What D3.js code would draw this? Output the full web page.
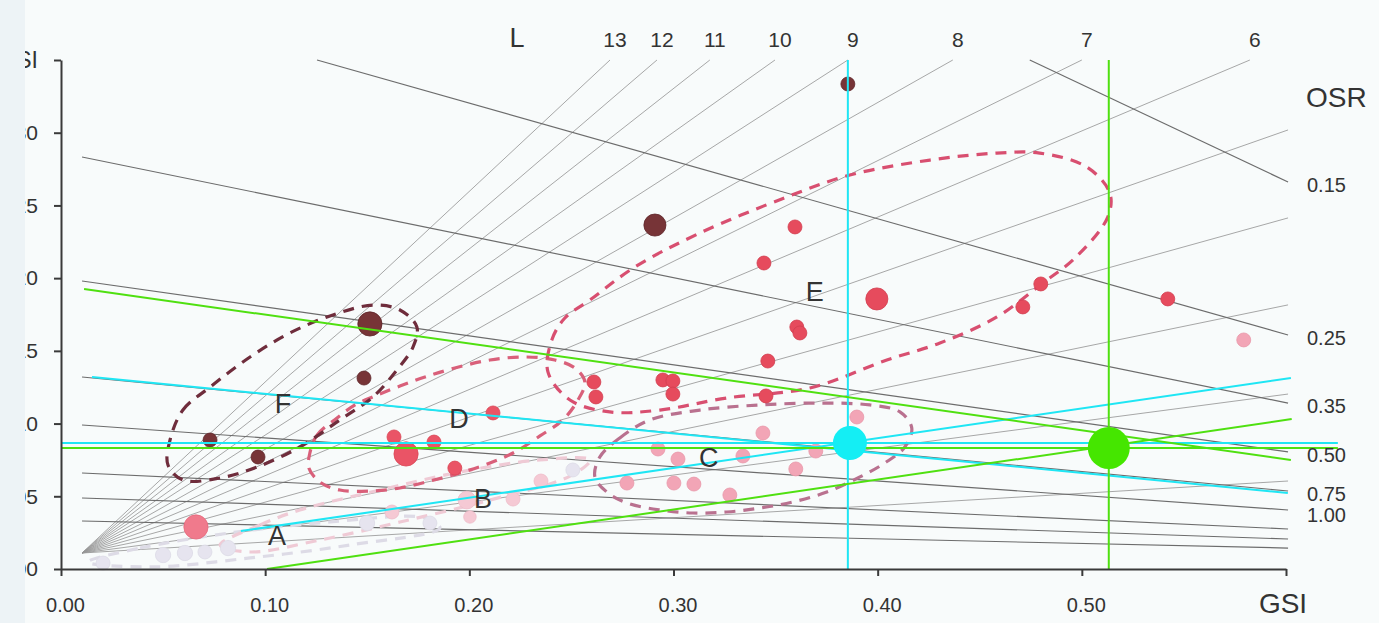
<!DOCTYPE html>
<html><head><meta charset="utf-8">
<script src="https://cdn.jsdelivr.net/npm/d3@7"></script>
<style>
html,body{margin:0;padding:0;background:#f7fafa;}
svg{display:block;font-family:"Liberation Sans",Arial,Helvetica,sans-serif;}
</style></head><body>
<svg id="c" width="1379" height="623"></svg>
<script>
// ---------- data (GSI units) ----------
const xTicks=[0,0.1,0.2,0.3,0.4,0.5,0.6];
const xTickLabels=["0.00","0.10","0.20","0.30","0.40","0.50",""];
const yTicks=[0,0.05,0.10,0.15,0.20,0.25,0.30,0.35];
const yTickLabels=["0.00","0.05","0.10","0.15","0.20","0.25","0.30","GSI"];

const fanOrigin=[0.0103,0.011];
const fanLabels=["13","12","11","10","9","8","7","6","","","","",""];
const fanEnd=[[0.2689,0.35],[0.2919,0.35],[0.3178,0.35],[0.3497,0.35],[0.3854,0.35],[0.4368,0.35],[0.5,0.35],[0.5823,0.35],
  [0.601,0.3019],[0.601,0.2414],[0.601,0.1816],[0.601,0.1203],[0.601,0.0605]];

const osrLabels=["0.15","0.25","0.35","0.50","0.75","1.00","","",""];
const osrStart=[[0.4745,0.35],[0.1254,0.35],[0.0103,0.2833],[0.0103,0.1980],[0.0103,0.1320],[0.0103,0.0990],[0.0103,0.0660],[0.0103,0.0488],[0.0103,0.0330]];
const osrEnd=[[0.601,0.2661],[0.601,0.1609],[0.601,0.1141],[0.601,0.0805],[0.601,0.0536],[0.601,0.0406],[0.601,0.0275],[0.601,0.0206],[0.601,0.0144]];

const groupNames=["A","B","C","D","E","F"];
const groupLabelPos=[[0.1058,0.0234],[0.2067,0.0488],[0.3173,0.0770],[0.1949,0.1038],[0.3692,0.1912],[0.1087,0.1141]];

// points: [GSI x, GSI y, weight]
const ptsA=[[0.0206,0.0041,1],[0.0500,0.0096,1.2],[0.0607,0.0110,1.2],[0.0705,0.0117,1],[0.0818,0.0144,1.2],[0.1499,0.0316,1.2],[0.1807,0.0316,1],[0.2507,0.0681,1]];
const ptsB=[[0.2351,0.0605,1],[0.1988,0.0474,1.6],[0.2214,0.0481,1],[0.1621,0.0392,1],[0.2003,0.0358,0.8]];
const ptsC=[[0.3898,0.1045,1],[0.3438,0.0935,1],[0.2924,0.0825,1],[0.3022,0.0756,1],[0.3340,0.0777,1],[0.3697,0.0811,1],[0.3599,0.0688,1],
  [0.2772,0.0591,1],[0.3002,0.0591,1],[0.3100,0.0584,1],[0.3276,0.0509,1],[0.5793,0.1575,1]];
const ptsD=[[0.2116,0.1073,1],[0.1631,0.0908,1],[0.1827,0.0873,1],[0.1690,0.0791,3],[0.1929,0.0694,1]];
const ptsP=[[0.0661,0.0289,3]];
const ptsE=[[0.3595,0.2352,1],[0.3443,0.2104,1],[0.3996,0.1857,2.5],[0.3604,0.1664,1],[0.3619,0.1623,1],[0.3462,0.1430,1],[0.3453,0.1190,1],
  [0.4799,0.1960,1],[0.4711,0.1802,1],[0.5421,0.1857,1],[0.2610,0.1286,1],[0.2620,0.1183,1],[0.2948,0.1300,1],[0.2997,0.1293,1],[0.2997,0.1203,1]];
const ptsF=[[0.3854,0.3335,1],[0.2909,0.2365,2.5],[0.1513,0.1685,3],[0.1484,0.1313,1],[0.0730,0.0887,1],[0.0965,0.0770,1]];

// outlines of the groups (dashed)
const outlineA=[[0.0132,0.0048],[0.0387,0.0144],[0.0828,0.0248],[0.1317,0.0323],[0.1783,0.0351],[0.1856,0.0282],[0.1415,0.0165],[0.0926,0.0076],[0.0436,0.0014]];
const outlineB=[[0.0779,0.0165],[0.0975,0.0303],[0.1170,0.0406],[0.1562,0.0543],[0.1954,0.0667],[0.2346,0.0750],[0.2591,0.0750],[0.2493,0.0639],[0.2101,0.0474],[0.1660,0.0323],[0.1268,0.0199],[0.0926,0.0117]];
const outlineC=[[0.2639,0.0770],[0.2737,0.0901],[0.2884,0.1025],[0.3129,0.1093],[0.3423,0.1128],[0.3717,0.1141],[0.3962,0.1128],[0.4109,0.1080],[0.4167,0.0970],[0.4133,0.0839],
  [0.4035,0.0729],[0.3913,0.0633],[0.3751,0.0529],[0.3585,0.0461],[0.3423,0.0419],[0.3261,0.0392],[0.3095,0.0385],[0.2933,0.0406],[0.2772,0.0454],[0.2674,0.0529],[0.2615,0.0633]];
const outlineD=[[0.1219,0.0798],[0.1254,0.0921],[0.1352,0.1038],[0.1440,0.1128],[0.1538,0.1190],[0.1660,0.1258],[0.1783,0.1320],[0.1929,0.1382],[0.2101,0.1437],[0.2272,0.1458],
  [0.2419,0.1437],[0.2517,0.1382],[0.2566,0.1286],[0.2532,0.1162],[0.2458,0.1025],[0.2346,0.0915],[0.2223,0.0804],[0.2101,0.0729],[0.1954,0.0660],[0.1807,0.0605],
  [0.1660,0.0557],[0.1513,0.0536],[0.1366,0.0543],[0.1268,0.0598],[0.1214,0.0694]];
const outlineE=[[0.2385,0.1355],[0.2404,0.1575],[0.2468,0.1726],[0.2591,0.1850],[0.2811,0.2077],[0.3129,0.2310],[0.3555,0.2558],[0.3864,0.2709],[0.4256,0.2812],[0.4584,0.2860],
  [0.4794,0.2860],[0.5024,0.2764],[0.5137,0.2585],[0.5127,0.2420],[0.4966,0.2138],[0.4809,0.1967],[0.4584,0.1733],[0.4305,0.1554],[0.4045,0.1437],[0.3668,0.1245],
  [0.3261,0.1176],[0.2933,0.1093],[0.2688,0.1080],[0.2493,0.1162]];
const outlineF=[[0.0534,0.0887],[0.0597,0.1093],[0.0730,0.1251],[0.0926,0.1458],[0.1121,0.1623],[0.1332,0.1747],[0.1528,0.1815],[0.1660,0.1781],[0.1743,0.1664],[0.1724,0.1526],
  [0.1645,0.1368],[0.1528,0.1183],[0.1366,0.1025],[0.1170,0.0839],[0.0960,0.0701],[0.0779,0.0626],[0.0597,0.0612],[0.0524,0.0715]];

// reference lines and markers
const cyanPoint=[0.3864,0.0866];
const greenPoint=[0.5132,0.0832];
const cyanLines=[[[0.3854,0.35],[0.3854,0]],[[0,0.0866],[0.6254,0.0866]],[[0.0152,0.1320],[0.6009,0.0523]],[[0.0881,0.0261],[0.6024,0.1313]]];
const greenLines=[[[0.5132,0.35],[0.5132,0]],[[0,0.0832],[0.6254,0.0832]],[[0.0113,0.1925],[0.6024,0.0750]],[[0.1009,0],[0.6028,0.1031]]];

// ---------- drawing ----------
const W=1379,H=623;
const svg=d3.select("#c");
const x=d3.scaleLinear().domain([0,0.6]).range([61,1286]);
const y=d3.scaleLinear().domain([0,0.35]).range([569,60]);
const r=d3.scaleSqrt().domain([0,3]).range([0,12.1]);

svg.append("rect").attr("width",W).attr("height",H).attr("fill","#f8fbfb");
svg.append("defs").append("clipPath").attr("id","pg").append("rect").attr("x",25).attr("y",0).attr("width",W).attr("height",H);
const g=svg.append("g").attr("clip-path","url(#pg)");

const line=d3.line().x(d=>x(d[0])).y(d=>y(d[1]));

// fan lines
g.append("g").selectAll("path").data(fanEnd).join("path")
  .attr("d",d=>line([fanOrigin,d])).attr("fill","none").attr("stroke","#979797").attr("stroke-width",0.85);
// OSR lines
g.append("g").selectAll("path").data(osrStart).join("path")
  .attr("d",(d,i)=>line([d,osrEnd[i]])).attr("fill","none").attr("stroke","#6c6c6c").attr("stroke-width",1.15);

// outlines
const closed=d3.line().x(d=>x(d[0])).y(d=>y(d[1])).curve(d3.curveCatmullRomClosed.alpha(0.5));
const outlines=[[outlineA,"#dddbe6"],[outlineB,"#efcad5"],[outlineC,"#b9718f"],[outlineD,"#d9607a"],[outlineF,"#6f2d3c"],[outlineE,"#d84f70"]];
g.append("g").selectAll("path").data(outlines).join("path")
  .attr("d",d=>closed(d[0])).attr("fill","none").attr("stroke",d=>d[1])
  .attr("stroke-width",3.2).attr("stroke-dasharray","11,8");

// points
const ptGroups=[[ptsA,"#e6e4ef","#dcdae6"],[ptsB,"#f5c9d4","#eebcc9"],[ptsC,"#f2a5b6","#e898aa"],[ptsP,"#f07a8c","#e46a7c"],[ptsD,"#ea5466","#d94656"],[ptsE,"#e64b5d","#d23d4f"],[ptsF,"#773437","#5e2629"]];
ptGroups.forEach(([pts,fill,stroke])=>{
  g.append("g").selectAll("circle").data(pts).join("circle")
    .attr("cx",d=>x(d[0])).attr("cy",d=>y(d[1])).attr("r",d=>r(d[2]))
    .attr("fill",fill).attr("stroke",stroke).attr("stroke-width",0.8);
});

// reference lines
g.append("g").selectAll("path").data(cyanLines).join("path")
  .attr("d",d=>line(d)).attr("stroke","#1fe6f4").attr("stroke-width",2).attr("fill","none");
g.append("g").selectAll("path").data(greenLines).join("path")
  .attr("d",d=>line(d)).attr("stroke","#4fe010").attr("stroke-width",2).attr("fill","none");
g.append("circle").attr("cx",x(cyanPoint[0])).attr("cy",y(cyanPoint[1])).attr("r",17).attr("fill","#14eef4");
g.append("circle").attr("cx",x(greenPoint[0])).attr("cy",y(greenPoint[1])).attr("r",21).attr("fill","#45e600");

// axes
const xa=g.append("g").attr("transform","translate(0,569)")
  .call(d3.axisBottom(x).tickValues(xTicks).tickFormat((d,i)=>xTickLabels[i]).tickSize(7).tickPadding(22).tickSizeOuter(0));
xa.select(".domain").attr("stroke","#3a3a3a").attr("stroke-width",2);
xa.selectAll(".tick line").attr("stroke","#3a3a3a").attr("stroke-width",2);
xa.selectAll(".tick text").attr("font-size",20).attr("fill","#333").attr("dx",4).attr("font-family","Liberation Sans, Arial, sans-serif");

const ya=g.append("g").attr("transform","translate(61,0)")
  .call(d3.axisLeft(y).tickValues(yTicks).tickFormat((d,i)=>yTickLabels[i]).tickSize(7).tickPadding(16).tickSizeOuter(0));
ya.select(".domain").attr("stroke","#3a3a3a").attr("stroke-width",2);
ya.selectAll(".tick line").attr("stroke","#3a3a3a").attr("stroke-width",2);
ya.selectAll(".tick text").attr("font-size",(d,i)=>i===yTicks.length-1?23:21).attr("fill","#333").attr("font-family","Liberation Sans, Arial, sans-serif");

// fan labels
g.append("text").attr("x",517).attr("y",47).attr("text-anchor","middle").attr("font-size",27).attr("fill","#333").text("L");
g.append("g").selectAll("text").data(fanEnd).join("text")
  .attr("x",d=>x(d[0])+5).attr("y",47).attr("text-anchor","middle").attr("font-size",21).attr("fill","#333")
  .text((d,i)=>fanLabels[i]);
// OSR labels
g.append("text").attr("x",1306).attr("y",107).attr("font-size",28).attr("fill","#333").text("OSR");
g.append("g").selectAll("text").data(osrEnd).join("text")
  .attr("x",1307).attr("y",(d,i)=>y(d[1])+(i===5?5:3)).attr("dy","0.35em").attr("font-size",20).attr("fill","#333")
  .text((d,i)=>osrLabels[i]);
// group labels
g.append("g").selectAll("text").data(groupLabelPos).join("text")
  .attr("x",d=>x(d[0])).attr("y",d=>y(d[1])).attr("dy","0.36em").attr("text-anchor","middle")
  .attr("font-size",27).attr("fill","#333").text((d,i)=>groupNames[i]);
// x title
g.append("text").attr("x",1283).attr("y",613).attr("text-anchor","middle").attr("font-size",28).attr("fill","#333").text("GSI");

// left page margin
svg.append("rect").attr("x",0).attr("y",0).attr("width",25).attr("height",H).attr("fill","#edf3f6");
</script></body></html>
